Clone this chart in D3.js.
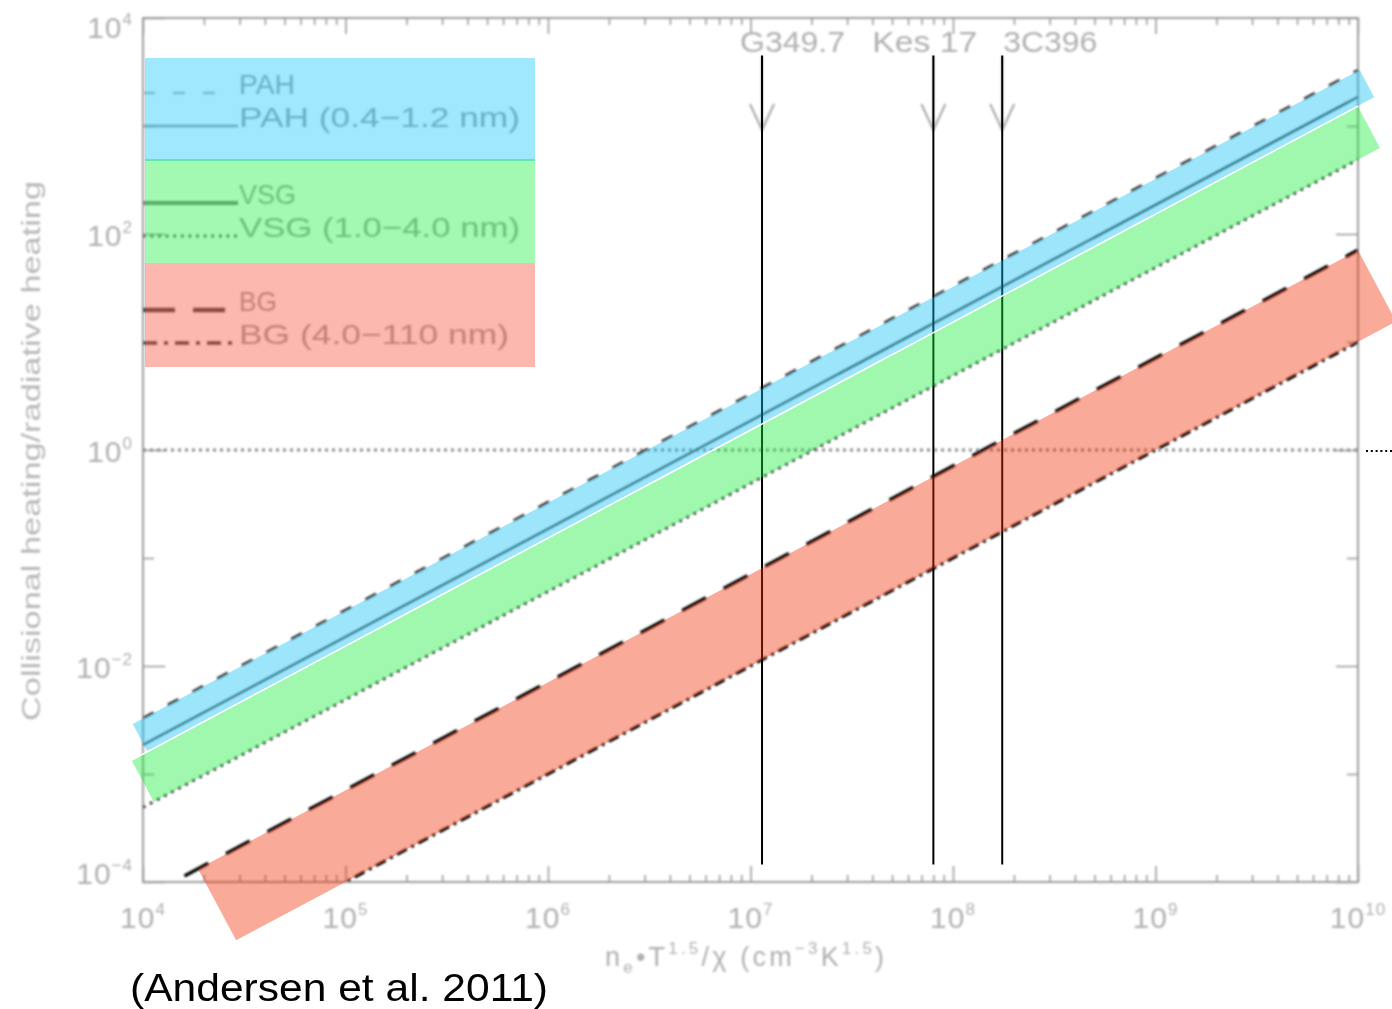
<!DOCTYPE html>
<html>
<head>
<meta charset="utf-8">
<script src="https://cdn.jsdelivr.net/npm/d3@7"></script>
<style>
  body { margin: 0; background: #fff; }
  svg { display: block; }
</style>
</head>
<body>
<svg id="chart" width="1392" height="1009"></svg>
<script>
// ---- data ---------------------------------------------------------------
// x ends of the model lines, n_e T^1.5 / chi  (cm^-3 K^1.5)
const lineX = [1e4, 1e10];
// collisional / radiative heating ratio at the two x ends
const pahAll   = [3.3e-3, 3.3e3];
const pahSmall = [1.86e-3, 1.86e3];
const vsgAll   = [1.86e-3, 1.86e3];
const vsgSmall = [4.9e-4, 4.9e2];
const bgAll    = [7.1e-5, 7.1e1];
const bgLarge  = [1.0e-5, 1.0e1];

const seriesNames = ["PAH", "PAH (0.4\u22121.2 nm)", "VSG", "VSG (1.0\u22124.0 nm)",
                     "BG", "BG (4.0\u2212110 nm)"];

// supernova remnants marked with arrows
const remnantNames = ["G349.7", "Kes 17", "3C396"];
const remnantX     = [1.14e7, 8.0e7, 1.75e8];
const remnantSpanY = [4.5e3, 1.45e-4];

// highlight bands: x range of the upper edge, upper and lower edge values there
const blueBandX = [8.9e3, 1.02e10], blueBandTop = [2.9e-3, 3.3e3], blueBandBottom = [1.38e-3, 1.57e3];
const greenBandX = [8.8e3, 1.0e10], greenBandTop = [1.33e-3, 1.51e3], greenBandBottom = [4.3e-4, 4.9e2];
const redBandX = [1.87e4, 1.0e10], redBandTop = [1.32e-4, 70.8], redBandBottom = [1.87e-5, 10];

// tick labels (powers of ten)
const xTickExp = [4, 5, 6, 7, 8, 9, 10];
const yTickExp = [4, 2, 0, -2, -4];
const yMinorExp = [3, 1, -1, -3];

// ---- setup --------------------------------------------------------------
const W = 1392, H = 1009;
const svg = d3.select("#chart");
svg.append("rect").attr("width", W).attr("height", H).attr("fill", "#fff");

const x = d3.scaleLog().domain([1e4, 1e10]).range([143, 1358]);
const y = d3.scaleLog().domain([1e-4, 1e4]).range([882, 18]);
const [x0, x1] = x.range();
const [yb, yt] = y.range();

const defs = svg.append("defs");
defs.append("filter").attr("id", "soft")
  .attr("x", 0).attr("y", 0).attr("width", W).attr("height", H)
  .attr("filterUnits", "userSpaceOnUse")
  .append("feGaussianBlur").attr("stdDeviation", 0.8);
defs.append("clipPath").attr("id", "plotClip")
  .append("rect").attr("x", x0).attr("y", yt).attr("width", x1 - x0).attr("height", yb - yt);

const gray = "#b0b0b0";
const axisGray = "#9c9c9c";
const hershey = "'Liberation Sans', Arial, sans-serif";

// the plotted figure itself (slightly soft)
const fig = svg.append("g").attr("filter", "url(#soft)");

// ---- axes ---------------------------------------------------------------
fig.append("rect").attr("x", x0).attr("y", yt).attr("width", x1 - x0).attr("height", yb - yt)
  .attr("fill", "none").attr("stroke", axisGray).attr("stroke-width", 2);

const xMajor = xTickExp.map(e => Math.pow(10, e));
const xMinor = [];
xTickExp.slice(0, -1).forEach(e => { for (let m = 2; m <= 9; m++) xMinor.push(m * Math.pow(10, e)); });
const yMajor = yTickExp.map(e => Math.pow(10, e));
const yMinor = yMinorExp.map(e => Math.pow(10, e));

function styleAxis(g) {
  g.select(".domain").remove();
  g.selectAll("text").remove();
  g.selectAll("line").attr("stroke", axisGray).attr("stroke-width", 1.6);
}
const noLabel = () => "";
fig.append("g").attr("transform", `translate(0,${yb})`)
  .call(d3.axisBottom(x).tickValues(xMajor).tickSize(-16).tickFormat(noLabel)).call(styleAxis);
fig.append("g").attr("transform", `translate(0,${yb})`)
  .call(d3.axisBottom(x).tickValues(xMinor).tickSize(-7).tickFormat(noLabel)).call(styleAxis);
fig.append("g").attr("transform", `translate(0,${yt})`)
  .call(d3.axisTop(x).tickValues(xMajor).tickSize(-16).tickFormat(noLabel)).call(styleAxis);
fig.append("g").attr("transform", `translate(0,${yt})`)
  .call(d3.axisTop(x).tickValues(xMinor).tickSize(-7).tickFormat(noLabel)).call(styleAxis);
fig.append("g").attr("transform", `translate(${x0},0)`)
  .call(d3.axisLeft(y).tickValues(yMajor).tickSize(-22).tickFormat(noLabel)).call(styleAxis);
fig.append("g").attr("transform", `translate(${x0},0)`)
  .call(d3.axisLeft(y).tickValues(yMinor).tickSize(-11).tickFormat(noLabel)).call(styleAxis);
fig.append("g").attr("transform", `translate(${x1},0)`)
  .call(d3.axisRight(y).tickValues(yMajor).tickSize(-22).tickFormat(noLabel)).call(styleAxis);
fig.append("g").attr("transform", `translate(${x1},0)`)
  .call(d3.axisRight(y).tickValues(yMinor).tickSize(-11).tickFormat(noLabel)).call(styleAxis);

const sup = e => (e < 0 ? "\u2212" + (-e) : String(e));

const xl = fig.append("g").attr("font-family", hershey).attr("fill", gray);
xTickExp.forEach(e => {
  const t = xl.append("text").attr("x", x(Math.pow(10, e))).attr("y", yb + 46)
    .attr("text-anchor", "middle").attr("font-size", 30).attr("letter-spacing", 1);
  t.append("tspan").text("10");
  t.append("tspan").attr("font-size", 17).attr("dy", -13).text(sup(e));
});

const yl = fig.append("g").attr("font-family", hershey).attr("fill", gray);
yTickExp.forEach(e => {
  const nudge = e === 4 ? 20 : (e === -4 ? 2 : 12);
  const t = yl.append("text").attr("x", x0 - 10).attr("y", y(Math.pow(10, e)) + nudge)
    .attr("text-anchor", "end").attr("font-size", 30).attr("letter-spacing", 1);
  t.append("tspan").text("10");
  t.append("tspan").attr("font-size", 17).attr("dy", -13).text(sup(e));
});

// axis titles
fig.append("text").attr("transform", `translate(40,${(yt + yb) / 2 + 1}) rotate(-90)`)
  .attr("text-anchor", "middle").attr("font-family", hershey).attr("font-size", 26)
  .attr("fill", "#b8b8b8").attr("textLength", 540).attr("lengthAdjust", "spacingAndGlyphs")
  .text("Collisional heating/radiative heating");

const xt = fig.append("text").attr("x", 605).attr("y", 966).attr("font-family", hershey)
  .attr("font-size", 27).attr("fill", gray).attr("letter-spacing", 3.2);
xt.append("tspan").text("n");
xt.append("tspan").attr("font-size", 17).attr("dy", 7).text("e");
xt.append("tspan").attr("dy", -7).text("\u2022T");
xt.append("tspan").attr("font-size", 17).attr("dy", -12).text("1.5");
xt.append("tspan").attr("dy", 12).text("/\u03c7 (cm");
xt.append("tspan").attr("font-size", 17).attr("dy", -12).text("\u22123");
xt.append("tspan").attr("dy", 12).text("K");
xt.append("tspan").attr("font-size", 17).attr("dy", -12).text("1.5");
xt.append("tspan").attr("dy", 12).text(")");

// ---- reference line at ratio = 1 -----------------------------------------
fig.append("line").attr("x1", x0).attr("x2", x1).attr("y1", y(1)).attr("y2", y(1))
  .attr("stroke", "#8a8a8a").attr("stroke-width", 3).attr("stroke-dasharray", "3 4");

// ---- model lines ----------------------------------------------------------
const series = [
  { v: pahAll,   dash: "12 16",       w: 2.2, c: "#1c1c1c" },
  { v: pahSmall, dash: null,          w: 1.6, c: "#333" },
  { v: vsgAll,   dash: null,          w: 1.6, c: "#333" },
  { v: vsgSmall, dash: "2.6 5.4",     w: 2.6, c: "#111" },
  { v: bgAll,    dash: "27 20",       w: 3.4, c: "#000" },
  { v: bgLarge,  dash: "11 5 3 5",    w: 3.0, c: "#000" }
];
const line = d3.line().x(d => x(d[0])).y(d => y(d[1]));
const plot = fig.append("g").attr("clip-path", "url(#plotClip)");
series.forEach(s => {
  plot.append("path").datum(lineX.map((xv, i) => [xv, s.v[i]]))
    .attr("d", line).attr("fill", "none").attr("stroke", s.c)
    .attr("stroke-width", s.w).attr("stroke-dasharray", s.dash);
});

// ---- legend (line samples and labels) -------------------------------------
const legendRows = [
  { y: 93,  dash: "12 18",    w: 2.4, c: "#b8b8b8", x2: 224, len: 56 },
  { y: 126, dash: null,       w: 2.6, c: "#999",    x2: 238, len: 281 },
  { y: 203, dash: null,       w: 4.2, c: "#808080", x2: 238, len: 57 },
  { y: 236, dash: "2.6 5",    w: 2.8, c: "#555",    x2: 238, len: 281 },
  { y: 310, dash: "32 18",    w: 4.6, c: "#444",    x2: 226, len: 38 },
  { y: 343, dash: "14 7 4 7", w: 3.6, c: "#444",    x2: 238, len: 270 }
];
const leg = fig.append("g");
legendRows.forEach((r, i) => {
  leg.append("line").attr("x1", 143).attr("x2", r.x2).attr("y1", r.y).attr("y2", r.y)
    .attr("stroke", r.c).attr("stroke-width", r.w).attr("stroke-dasharray", r.dash);
  leg.append("text").attr("x", 239).attr("y", r.y + 1).attr("font-family", hershey)
    .attr("font-size", 28).attr("fill", "#a2a2a2")
    .attr("textLength", r.len).attr("lengthAdjust", "spacingAndGlyphs")
    .text(seriesNames[i]);
});

// ---- remnant arrows and names -----------------------------------------------
const nameDx = [-22, -61, 1];
const nameLen = [105, 105, 94];
const ann = fig.append("g");
remnantX.forEach((rx, i) => {
  const px = x(rx);
  ann.append("path").attr("d", `M${px},56V130M${px - 12},104L${px},130L${px + 12},104`)
    .attr("fill", "none").attr("stroke", "#a8a8a8").attr("stroke-width", 2);
  ann.append("text").attr("x", px + nameDx[i]).attr("y", 52).attr("font-family", hershey)
    .attr("font-size", 30).attr("fill", gray)
    .attr("textLength", nameLen[i]).attr("lengthAdjust", "spacingAndGlyphs")
    .text(remnantNames[i]);
});

// ---- marker lines at the remnants (crisp) -------------------------------
const marks = svg.append("g");
remnantX.forEach(rx => {
  marks.append("line").attr("x1", x(rx)).attr("x2", x(rx))
    .attr("y1", y(remnantSpanY[0])).attr("y2", y(remnantSpanY[1]))
    .attr("stroke", "#000").attr("stroke-width", 2);
});
marks.append("line").attr("x1", x1 + 8).attr("x2", W).attr("y1", y(1) + 1).attr("y2", y(1) + 1)
  .attr("stroke", "#000").attr("stroke-width", 2).attr("stroke-dasharray", "2 2.8");

// ---- translucent highlight bands --------------------------------------------
function bandPolygon(bx, top, bottom) {
  const p1 = [x(bx[0]), y(top[0])];
  const p2 = [x(bx[1]), y(top[1])];
  const len = Math.hypot(p2[0] - p1[0], p2[1] - p1[1]);
  const u = [(p2[0] - p1[0]) / len, (p2[1] - p1[1]) / len];
  const n = [-u[1], u[0]];
  const w = (y(bottom[0]) - p1[1]) * u[0];
  return [p1, p2, [p2[0] + w * n[0], p2[1] + w * n[1]], [p1[0] + w * n[0], p1[1] + w * n[1]]];
}
const bandOpacity = 0.4;
const bands = svg.append("g");
const blueBand = bandPolygon(blueBandX, blueBandTop, blueBandBottom);
const greenBand = bandPolygon(greenBandX, greenBandTop, greenBandBottom);
const redBand = bandPolygon(redBandX, redBandTop, redBandBottom);
[[blueBand, "rgb(10,190,245)"], [greenBand, "rgb(17,235,52)"], [redBand, "rgb(240,42,0)"]]
  .forEach(([pts, col]) => {
    bands.append("polygon").attr("points", pts.map(p => p.join(",")).join(" "))
      .attr("fill", col).attr("fill-opacity", bandOpacity);
  });
bands.append("line").attr("x1", greenBand[0][0]).attr("y1", greenBand[0][1] - 0.5)
  .attr("x2", greenBand[1][0]).attr("y2", greenBand[1][1] - 0.5)
  .attr("stroke", "#fff").attr("stroke-width", 1.4);

// legend swatches
const swatches = [
  { y0: 58,  y1: 160, col: "rgb(18,198,253)" },
  { y0: 160, y1: 263, col: "rgb(25,240,60)" },
  { y0: 263, y1: 367, col: "rgb(247,77,52)" }
];
swatches.forEach(s => {
  bands.append("rect").attr("x", 145).attr("y", s.y0).attr("width", 390).attr("height", s.y1 - s.y0)
    .attr("fill", s.col).attr("fill-opacity", bandOpacity);
});
bands.append("line").attr("x1", 145).attr("x2", 535).attr("y1", 160).attr("y2", 160)
  .attr("stroke", "#64e6b2").attr("stroke-width", 2.2);

// ---- citation -------------------------------------------------------------
svg.append("text").attr("x", 130).attr("y", 1001)
  .attr("font-family", "'Liberation Sans', Arial, Helvetica, sans-serif")
  .attr("font-size", 38).attr("fill", "#000")
  .attr("textLength", 418).attr("lengthAdjust", "spacingAndGlyphs")
  .text("(Andersen et al. 2011)");
</script>
</body>
</html>
